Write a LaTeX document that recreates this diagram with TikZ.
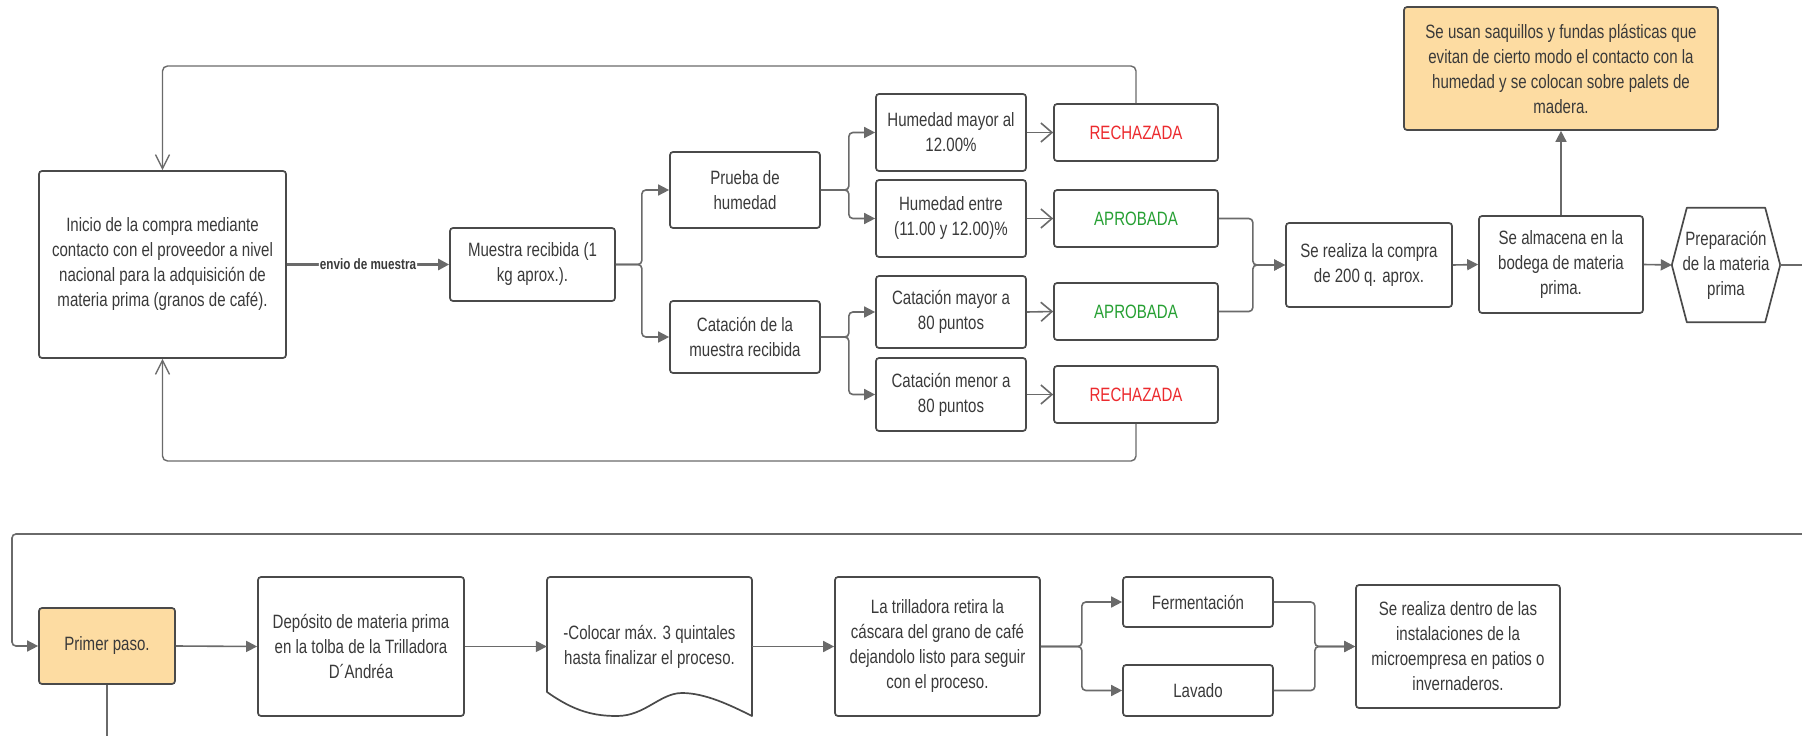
\documentclass[tikz,border=0pt]{standalone}
\usepackage{fontspec}
\setmainfont{Liberation Sans}[FakeStretch=0.78]
\usetikzlibrary{arrows.meta}

\definecolor{linec}{HTML}{6A6A6A}
\definecolor{boxc}{HTML}{4A4A4A}
\definecolor{txtc}{HTML}{3A3A3A}
\definecolor{notefill}{HTML}{FDDCA2}
\definecolor{rejc}{HTML}{EC2A2E}
\definecolor{okc}{HTML}{26A033}

\tikzset{
  txt/.style={font=\fontsize{19.3}{25}\selectfont, text=txtc, align=center, inner sep=0pt},
  box/.style={txt, draw=boxc, line width=1.7pt, rounded corners=3pt, fill=white},
  note/.style={box, fill=notefill},
  ghost/.style={txt},
  flow/.style={draw=linec, line width=1.6pt, rounded corners=4pt,
    -{Triangle[length=11pt,width=11pt]}},
  wire/.style={draw=linec, line width=1.6pt, rounded corners=4pt},
  check/.style={draw=linec, line width=1.6pt,
    -{Straight Barb[length=11pt,width=19pt]}},
  loopback/.style={draw=linec, line width=1.4pt, rounded corners=5pt,
    -{Straight Barb[length=14pt,width=14pt]}},
  lbl/.style={font=\bfseries\fontsize{15}{16}\selectfont, text=txtc, fill=white,
    inner sep=1pt},
}

\begin{document}
\begin{tikzpicture}[x=1pt,y=-1pt]
\useasboundingbox[fill=white] (0,0) rectangle (1802,736);

% ---- first stage: sample reception and tests ----
\node[box, minimum width=247pt, minimum height=187pt] (inicio) at (162.5,264.5)
  {Inicio de la compra mediante\\contacto con el proveedor a nivel\\nacional para la adquisición de\\materia prima (granos de café).};
\node[box, minimum width=165pt, minimum height=73pt] (muestra) at (532.5,264.5)
  {Muestra recibida (1\\kg aprox.).};
\node[box, minimum width=150pt, minimum height=76pt] (prueba) at (745,190)
  {Prueba de\\humedad};
\node[box, minimum width=150pt, minimum height=72pt] (catacion) at (745,337)
  {Catación de la\\muestra recibida};

\node[box, minimum width=150pt, minimum height=77pt] (h1) at (951,132.5)
  {Humedad mayor al\\12.00\%};
\node[box, minimum width=150pt, minimum height=77pt] (h2) at (951,218.5)
  {Humedad entre\\(11.00 y 12.00)\%};
\node[box, minimum width=150pt, minimum height=72pt] (c1) at (951,312)
  {Catación mayor a\\80 puntos};
\node[box, minimum width=150pt, minimum height=73pt] (c2) at (951,394.5)
  {Catación menor a\\80 puntos};

\node[box, text=rejc, minimum width=164pt, minimum height=57pt] (r1) at (1136,132.5) {RECHAZADA};
\node[box, text=okc,  minimum width=164pt, minimum height=57pt] (a1) at (1136,218.5) {APROBADA};
\node[box, text=okc,  minimum width=164pt, minimum height=57pt] (a2) at (1136,311.5) {APROBADA};
\node[box, text=rejc, minimum width=164pt, minimum height=57pt] (r2) at (1136,394.5) {RECHAZADA};

\node[box, minimum width=166pt, minimum height=84pt] (compra) at (1369,265)
  {Se realiza la compra\\de 200 q. aprox.};
\node[box, minimum width=164pt, minimum height=97pt] (almacena) at (1561,264.5)
  {Se almacena en la\\bodega de materia\\prima.};
\node[note, minimum width=314pt, minimum height=123pt] (nota) at (1561,68.5)
  {Se usan saquillos y fundas plásticas que\\evitan de cierto modo el contacto con la\\humedad y se colocan sobre palets de\\madera.};

% hexagon for the preparation step
\node[ghost, minimum width=108pt, minimum height=114pt] (prep) at (1726,265)
  {Preparación\\de la materia\\prima};
\draw[boxc, line width=1.7pt, line join=round]
  (prep.west) -- ([xshift=15pt]prep.north west) -- ([xshift=-15pt]prep.north east)
  -- (prep.east) -- ([xshift=-15pt]prep.south east) -- ([xshift=15pt]prep.south west) -- cycle;

\coordinate (toprow) at (600,66);
\coordinate (botrow) at (600,461);
\coordinate (edgeA) at (1802,265);

% ---- second stage: threshing ----
\node[note, minimum width=136pt, minimum height=76pt] (primer) at (107,646) {Primer paso.};
\node[box, minimum width=206pt, minimum height=139pt] (deposito) at (361,646.5)
  {Depósito de materia prima\\en la tolba de la Trilladora\\D´Andréa};
\node[ghost, minimum width=205pt, minimum height=139pt] (doc) at (649.5,646.5)
  {\raisebox{14pt}{\begin{tabular}{@{}c@{}}-Colocar máx. 3 quintales\\hasta finalizar el proceso.\end{tabular}}};
\draw[boxc, line width=1.7pt, line join=round]
  (547,692) .. controls (575,712) and (595,716) .. (617,716)
  .. controls (645,716) and (660,693) .. (682,693)
  .. controls (705,693) and (730,705) .. (752,716)
  -- (752,600) [rounded corners=3pt] -- (752,577) -- (547,577) -- (547,600)
  [sharp corners] -- cycle;
\node[box, minimum width=205pt, minimum height=139pt] (trill) at (937.5,646.5)
  {La trilladora retira la\\cáscara del grano de café\\dejandolo listo para seguir\\con el proceso.};
\node[box, minimum width=150pt, minimum height=50pt] (ferm) at (1198,602) {Fermentación};
\node[box, minimum width=150pt, minimum height=51pt] (lavado) at (1198,690.5) {Lavado};
\node[box, minimum width=204pt, minimum height=123pt] (final) at (1458,646.5)
  {Se realiza dentro de las\\instalaciones de la\\microempresa en patios o\\invernaderos.};

\coordinate (edgeB) at (1802,534);
\coordinate (wrapL) at (12,534);
\coordinate (edgeC) at (107,736);

% ---- connectors, first stage ----
\draw[flow, line width=2.6pt] (inicio.east) -- node[lbl] {envio de muestra} (muestra.west);
\draw[flow] (muestra.east) -- ++(26,0) |- (prueba.west);
\draw[flow] (muestra.east) -- ++(26,0) |- (catacion.west);
\draw[flow] (prueba.east) -- ++(28,0) |- (h1.west);
\draw[flow] (prueba.east) -- ++(28,0) |- (h2.west);
\draw[flow] (catacion.east) -- ++(28,0) |- (c1.west);
\draw[flow] (catacion.east) -- ++(28,0) |- (c2.west);

\draw[check] (h1.east) -- (r1.west);
\draw[check] (h2.east) -- (a1.west);
\draw[check] (c1.east) -- (a2.west);
\draw[check] (c2.east) -- (r2.west);

\draw[loopback] (r1.north) |- (toprow) -| (inicio.north);
\draw[loopback] (r2.south) |- (botrow) -| (inicio.south);

\draw[flow] (a1.east) -- ++(34,0) |- (compra.west);
\draw[flow] (a2.east) -- ++(34,0) |- (compra.west);
\draw[flow] (compra.east) -- (almacena.west);
\draw[flow] (almacena.north) -- (nota.south);
\draw[flow] (almacena.east) -- (prep.west);
\draw[wire] (prep.east) -- (edgeA);

% ---- connectors, second stage ----
\draw[flow] (edgeB) -- (wrapL) |- (primer.west);
\draw[wire] (primer.south) -- (edgeC);
\draw[flow] (primer.east) -- (deposito.west);
\draw[flow] (deposito.east) -- (doc.west);
\draw[flow] (doc.east) -- (trill.west);
\draw[flow] (trill.east) -- ++(41,0) |- (ferm.west);
\draw[flow] (trill.east) -- ++(41,0) |- (lavado.west);
\draw[flow] (ferm.east) -- ++(41,0) |- (final.west);
\draw[flow] (lavado.east) -- ++(41,0) |- (final.west);
\end{tikzpicture}
\end{document}
